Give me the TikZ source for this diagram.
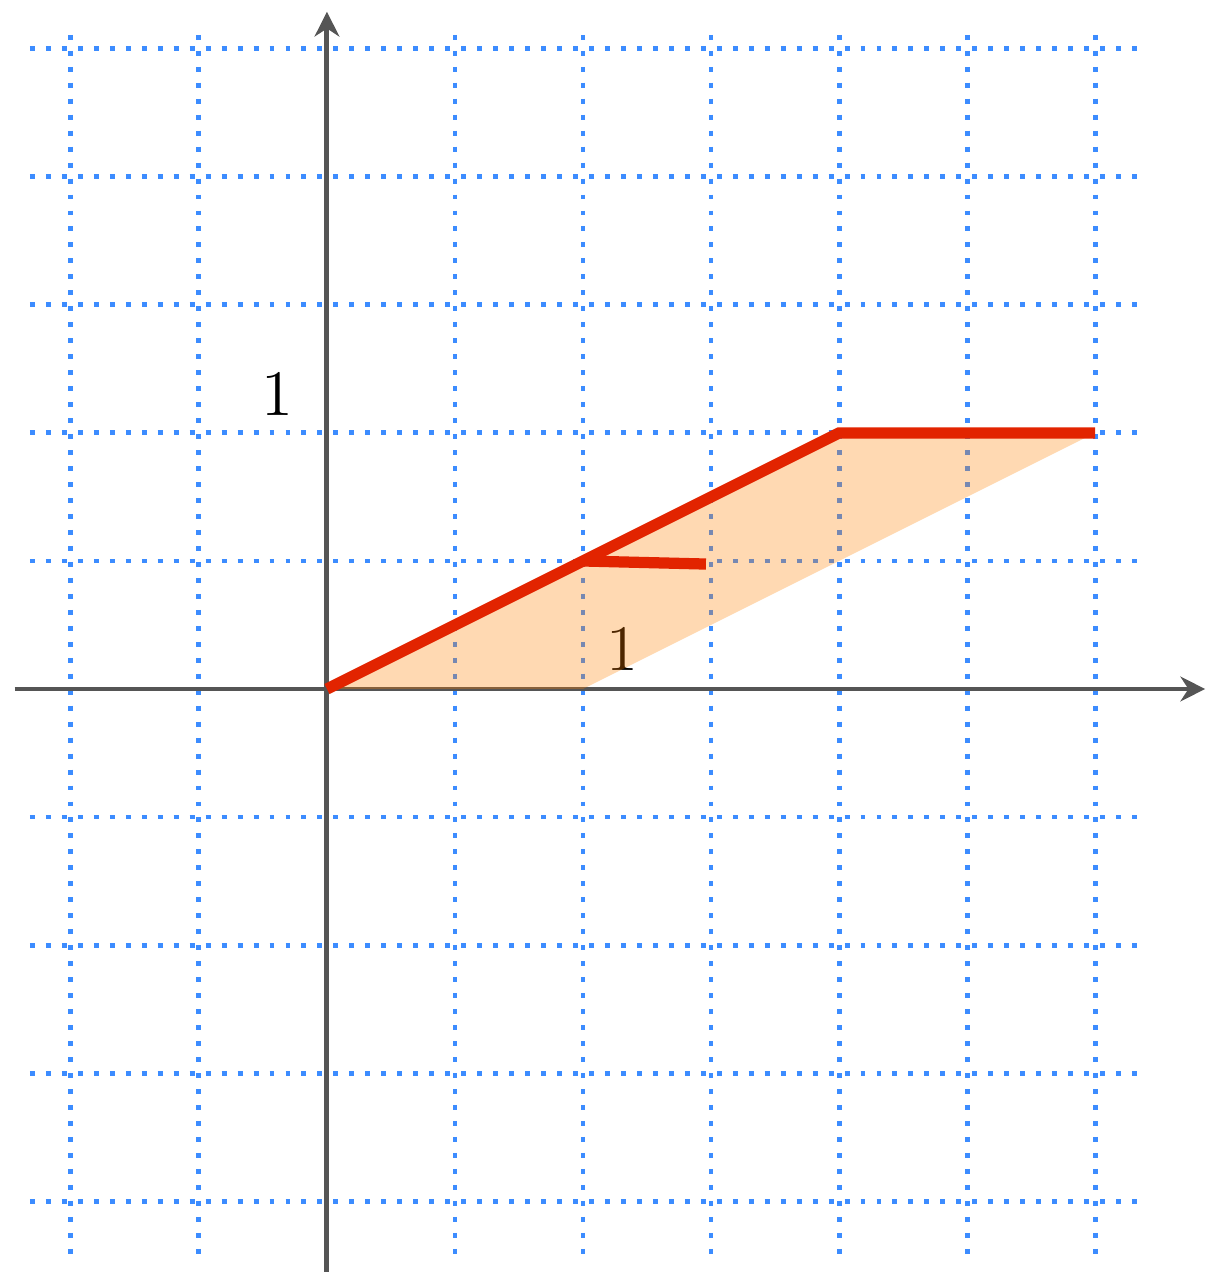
\documentclass[tikz,border=0pt]{standalone}
\usetikzlibrary{arrows.meta}
\definecolor{gridblue}{HTML}{3C8CFF}
\definecolor{shearred}{HTML}{E22400}
\definecolor{axisgray}{HTML}{555555}

\begin{document}
\begin{tikzpicture}[
        x=2cm, y=2cm,
        font=\Large,
        gridline/.style={gridblue, line width=1.1pt, dash pattern=on 1.1pt off 2.45pt},
        axis/.style={axisgray, line width=1.1pt, -{Stealth[length=5.5pt, width=5.5pt]}},
        region/.style={fill=orange, fill opacity=0.3},
        image/.style={shearred, line width=2.5pt}
    ]
        \useasboundingbox (-1.277,-2.277) rectangle (3.434,2.691);

        % Grid
        \foreach \gx in {-1,-0.5,...,3}
            \draw [gridline] (\gx,2.555) -- (\gx,-2.21);
        \foreach \gy in {-2,-1.5,...,2.5}
            \draw [gridline] (-1.16,\gy) -- (3.176,\gy);

        % Axes
        \coordinate (xfrom) at (-1.22,0);
        \coordinate (xto) at (3.43,0);
        \coordinate (yfrom) at (0,-2.28);
        \coordinate (yto) at (0,2.645);
        \draw [axis] (xfrom) -- (xto);
        \draw [axis] (yfrom) -- (yto);

        % Labels
        \node (ylabel) at (-0.195,1.148) {$1$};
        \node (xlabel) at (1.152,0.152) {$1$};

        % Sheared square
        \coordinate (O) at (0,0);
        \coordinate (A) at (1,0);
        \coordinate (B) at (2,1);
        \coordinate (C) at (3,1);
        \coordinate (M) at (1,0.5);
        \coordinate (N) at (1.48,0.488);
        \fill [region] (O) -- (A) -- (C) -- (B) -- cycle;
        \draw [image] (O) -- (B) -- (C);
        \draw [image] (M) -- (N);

\end{tikzpicture}
\end{document}
